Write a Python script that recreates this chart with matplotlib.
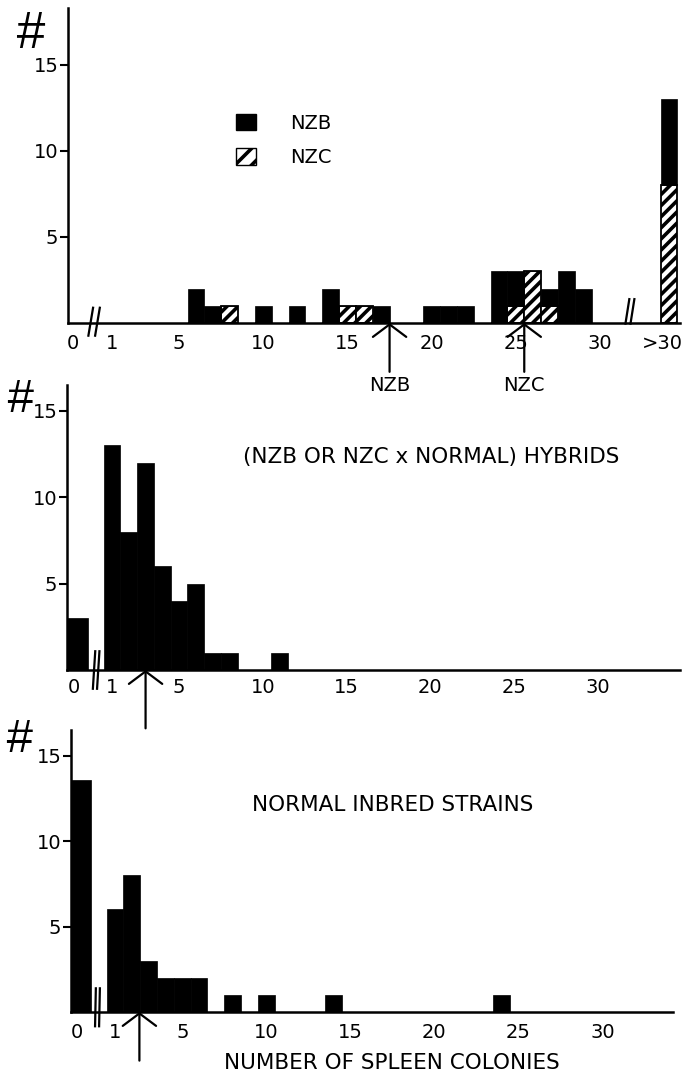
"""
Spleen colony counts: NZB / NZC, hybrids, normal inbred strains.
Three stacked hand-drawn style histograms with broken x axes.
"""

import matplotlib as mpl
import matplotlib.pyplot as plt
from matplotlib.patches import Patch

W, H = 683, 1079

# ---- data ---------------------------------------------------------------
# top panel: NZB (solid) stacked on NZC (hatched)
TOP_CLASS = [6, 7, 8, 10, 12, 14, 15, 16, 17, 20, 21, 22, 24, 25, 26, 27, 28, 29, ">30"]
TOP_NZB = [2, 1, 0, 1, 1, 2, 0, 0, 1, 1, 1, 1, 3, 2, 0, 1, 3, 2, 5]
TOP_NZC = [0, 0, 1, 0, 0, 0, 1, 1, 0, 0, 0, 0, 0, 1, 3, 1, 0, 0, 8]
NZB_MEAN = 17.5
NZC_MEAN = 25.5

# middle panel: (NZB or NZC x normal) hybrids
MID_CLASS = [0, 1, 2, 3, 4, 5, 6, 7, 8, 11]
MID_COUNT = [3, 13, 8, 12, 6, 4, 5, 1, 1, 1]
MID_MEAN = 3.0

# bottom panel: normal inbred strains
LOW_CLASS = [0, 1, 2, 3, 4, 5, 6, 8, 10, 14, 24]
LOW_COUNT = [13.6, 6, 8, 3, 2, 2, 2, 1, 1, 1, 1]
LOW_MEAN = 2.45

TOP_TICKS = ["0", "1", "5", "10", "15", "20", "25", "30", ">30"]
LOW_TICKS = ["0", "1", "5", "10", "15", "20", "25", "30"]

# where the broken-axis categories sit on the drawing
ZERO_POS, ZERO_W = -1.05, 1.25
ZERO_LABEL = -1.3
OVER30_POS = 34.1
OVER30_LABEL = 33.7

FS = 14
LW = 1.8
HATCH = "///"

mpl.rcParams.update({
    "font.family": "DejaVu Sans",
    "font.size": FS,
    "hatch.linewidth": 2.6,
    "axes.linewidth": LW,
})


def pos(c):
    if c == ">30":
        return OVER30_POS
    if c == 0:
        return ZERO_POS
    return c


def tick_pos(lab):
    if lab == "0":
        return ZERO_LABEL
    if lab == ">30":
        return OVER30_LABEL
    return int(lab)


def px_axes(fig, left, right, top, base):
    ax = fig.add_axes([left / W, 1 - base / H, (right - left) / W, (base - top) / H])
    ax.patch.set_visible(False)
    return ax


def style(ax, ticks, pad):
    for s in ("top", "right"):
        ax.spines[s].set_visible(False)
    ax.set_yticks([5, 10, 15])
    ax.tick_params(axis="y", direction="out", length=6, width=1.5, pad=1,
                   labelsize=FS)
    ax.set_xticks([tick_pos(t) for t in ticks], ticks)
    ax.tick_params(axis="x", length=0, pad=pad, labelsize=FS)


def axis_break(ax, x, y0, y1, dx, gap):
    for off in (0, gap):
        ax.plot([x + off, x + off + dx], [y0, y1], color="black", lw=1.6,
                clip_on=False, solid_capstyle="butt")


def hash_mark(fig, x, y, size=37):
    fig.text(x / W, 1 - y / H, "#", fontsize=size, family="Liberation Sans",
             style="italic", ha="center", va="center")


def widths(classes):
    return [ZERO_W if c == 0 else 1.0 for c in classes]


fig = plt.figure(figsize=(W / 100, H / 100), dpi=100)

# ---- top: NZB / NZC ------------------------------------------------------
ax = px_axes(fig, 68, 680, 8, 323)
ax.set_zorder(3)
x = [pos(c) for c in TOP_CLASS]
ax.bar(x, TOP_NZC, width=1.0, facecolor="white", edgecolor="black",
       hatch=HATCH, lw=1.3, zorder=2)
ax.bar(x, TOP_NZB, width=1.0, bottom=TOP_NZC, color="black",
       edgecolor="black", lw=0.5, zorder=3)
ax.set_xlim(-1.6, 34.75)
ax.set_ylim(0, 18.3)
style(ax, TOP_TICKS, 8)
axis_break(ax, -0.4, -0.8, 0.95, 0.3, 0.4)
axis_break(ax, 31.5, -0.1, 1.45, 0.25, 0.3)
arrow = dict(arrowstyle="->,head_length=0.45,head_width=0.6",
             mutation_scale=20, lw=1.6, color="black", shrinkA=1, shrinkB=0)
for m, lab in ((NZB_MEAN, "NZB"), (NZC_MEAN, "NZC")):
    ax.annotate(lab, xy=(m, 0), xytext=(0, -45), textcoords="offset points",
                ha="center", va="center", fontsize=FS, arrowprops=arrow,
                annotation_clip=False)
ax.legend(handles=[Patch(facecolor="black", edgecolor="black", label="NZB"),
                   Patch(facecolor="white", edgecolor="black", hatch="//",
                         label="NZC")],
          loc="upper left", bbox_to_anchor=(0.2745, 0.665), frameon=False,
          borderpad=0, borderaxespad=0, handlelength=1.05, handleheight=0.95,
          handletextpad=1.75, labelspacing=0.8, fontsize=FS)
hash_mark(fig, 29, 35)

# ---- middle: hybrids -----------------------------------------------------
ax = px_axes(fig, 67, 680, 385, 670)
ax.set_zorder(2)
ax.bar([pos(c) for c in MID_CLASS], MID_COUNT, width=widths(MID_CLASS),
       color="black", edgecolor="black", lw=0.5)
ax.set_xlim(-1.69, 34.9)
ax.set_ylim(0, 16.5)
style(ax, LOW_TICKS, 6)
axis_break(ax, -0.15, -1.15, 1.15, 0.15, 0.25)
ax.annotate("", xy=(MID_MEAN, 0), xytext=(MID_MEAN, -43),
            textcoords=("data", "offset points"), arrowprops=arrow,
            annotation_clip=False)
ax.text(0.594, 0.747, "(NZB OR NZC x NORMAL) HYBRIDS", transform=ax.transAxes,
        ha="center", va="center", fontsize=15.5)
hash_mark(fig, 19, 400, 34)

# ---- bottom: normal inbred strains ---------------------------------------
ax = px_axes(fig, 71, 673, 730, 1012)
ax.bar([pos(c) for c in LOW_CLASS], LOW_COUNT, width=widths(LOW_CLASS),
       color="black", edgecolor="black", lw=0.5)
ax.set_xlim(-1.62, 34.2)
ax.set_ylim(0, 16.5)
style(ax, LOW_TICKS, 8)
axis_break(ax, -0.19, -0.9, 1.45, 0.05, 0.24)
ax.annotate("", xy=(LOW_MEAN, 0), xytext=(LOW_MEAN, -36),
            textcoords=("data", "offset points"), arrowprops=arrow,
            annotation_clip=False)
ax.text(0.535, 0.734, "NORMAL INBRED STRAINS", transform=ax.transAxes,
        ha="center", va="center", fontsize=15.5)
hash_mark(fig, 18, 740, 34)

fig.text(392 / W, 1 - 1063 / H, "NUMBER OF SPLEEN COLONIES", ha="center",
         va="center", fontsize=15.5)

fig.savefig("out.png", dpi=100)
